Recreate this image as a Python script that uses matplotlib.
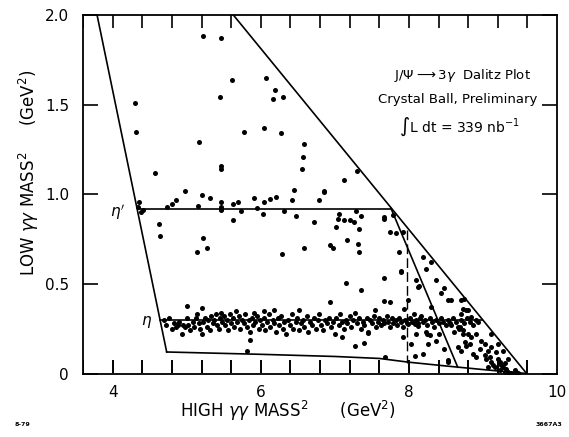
import matplotlib.pyplot as plt
import numpy as np

# kinematic boundary of the Dalitz plot (high, low) in GeV^2
left_edge_x = [3.79, 4.73]
left_edge_y = [2.0, 0.12]
bottom_edge_x = [4.73, 6.0, 7.0, 7.6, 8.0, 8.5, 9.0, 9.59]
bottom_edge_y = [0.12, 0.107, 0.095, 0.084, 0.063, 0.042, 0.022, 0.0]
upper_edge_x = [9.59, 5.63]
upper_edge_y = [0.0, 2.0]

# resonance bands and reflection
eta_prime_x = [4.34, 7.76]
eta_prime_y = [0.917, 0.917]
eta_x = [4.645, 8.99]
eta_y = [0.30, 0.30]
reflect_x = [7.76, 8.66]
reflect_y = [0.92, 0.035]
dashed_x = [7.98, 7.98]
dashed_y = [0.80, 0.06]

# axis ticks
x_major = [4, 6, 8, 10]
x_minor = [3.6, 4.4, 4.8, 5.2, 5.6, 6.4, 6.8, 7.2, 7.6, 8.4, 8.8, 9.2, 9.6]
y_major = [0, 0.5, 1.0, 1.5, 2.0]
y_labels = ["0", "0.5", "1.0", "1.5", "2.0"]

# events along the eta band
eta_band = [
    (4.70, 0.30), (4.72, 0.27), (4.76, 0.31), (4.80, 0.25), (4.83, 0.28), (4.85, 0.26),
    (4.88, 0.27), (4.90, 0.29), (4.93, 0.22), (4.95, 0.27), (4.98, 0.26), (5.00, 0.31),
    (5.02, 0.27), (5.05, 0.24), (5.08, 0.29), (5.10, 0.26), (5.12, 0.31), (5.14, 0.33),
    (5.16, 0.28), (5.18, 0.25), (5.20, 0.22), (5.22, 0.29), (5.25, 0.31), (5.27, 0.26),
    (5.29, 0.30), (5.31, 0.24), (5.33, 0.32), (5.35, 0.28), (5.37, 0.30), (5.39, 0.33),
    (5.41, 0.27), (5.43, 0.25), (5.45, 0.31), (5.47, 0.34), (5.48, 0.29), (5.50, 0.32),
    (5.52, 0.27), (5.54, 0.30), (5.56, 0.24), (5.58, 0.33), (5.60, 0.28), (5.62, 0.31),
    (5.64, 0.26), (5.66, 0.35), (5.68, 0.29), (5.70, 0.32), (5.72, 0.25), (5.75, 0.30),
    (5.77, 0.28), (5.79, 0.33), (5.82, 0.26), (5.84, 0.30), (5.86, 0.23), (5.88, 0.31),
    (5.90, 0.27), (5.92, 0.29), (5.95, 0.32), (5.97, 0.25), (5.99, 0.30), (6.02, 0.27),
    (6.04, 0.31), (6.06, 0.24), (6.09, 0.29), (6.11, 0.33), (6.13, 0.26), (6.16, 0.30),
    (6.18, 0.28), (6.20, 0.23), (6.23, 0.31), (6.25, 0.27), (6.27, 0.32), (6.30, 0.25),
    (6.32, 0.29), (6.34, 0.22), (6.37, 0.30), (6.39, 0.27), (6.42, 0.33), (6.44, 0.25),
    (6.47, 0.29), (6.49, 0.31), (6.52, 0.24), (6.54, 0.28), (6.57, 0.30), (6.59, 0.26),
    (6.62, 0.32), (6.64, 0.23), (6.67, 0.29), (6.69, 0.27), (6.72, 0.31), (6.74, 0.25),
    (6.77, 0.30), (6.79, 0.33), (6.82, 0.27), (6.84, 0.24), (6.87, 0.30), (6.89, 0.28),
    (6.92, 0.31), (6.95, 0.26), (6.97, 0.29), (7.00, 0.22), (7.02, 0.31), (7.05, 0.27),
    (7.07, 0.33), (7.10, 0.29), (7.12, 0.25), (7.15, 0.30), (7.17, 0.28), (7.20, 0.32),
    (7.22, 0.26), (7.25, 0.30), (7.27, 0.34), (7.30, 0.28), (7.33, 0.31), (7.35, 0.25),
    (7.38, 0.29), (7.40, 0.27), (7.43, 0.31), (7.45, 0.23), (7.48, 0.30), (7.50, 0.28),
    (7.53, 0.32), (7.55, 0.26), (7.58, 0.29), (7.60, 0.31), (7.62, 0.27), (7.65, 0.30),
    (7.67, 0.28), (7.70, 0.32), (7.72, 0.29), (7.74, 0.26), (7.77, 0.31), (7.79, 0.28),
    (7.82, 0.30), (7.84, 0.27), (7.87, 0.31), (7.89, 0.29), (7.92, 0.26), (7.95, 0.30),
    (7.98, 0.28), (8.01, 0.31), (8.04, 0.29), (8.07, 0.33), (8.10, 0.30), (8.12, 0.28),
    (8.15, 0.31), (8.17, 0.32), (8.19, 0.29), (8.22, 0.30), (8.25, 0.27), (8.28, 0.31),
    (8.31, 0.29), (8.34, 0.26), (8.37, 0.30), (8.40, 0.28), (8.43, 0.31), (8.46, 0.29),
    (8.50, 0.27), (8.53, 0.30), (8.56, 0.28), (8.60, 0.31), (8.63, 0.29), (8.67, 0.26),
    (8.70, 0.30), (8.74, 0.28), (8.78, 0.31), (8.82, 0.29), (8.86, 0.27), (8.90, 0.30),
    (8.94, 0.29),
]

# events along the eta' band
eta_prime_band = [
    (4.34, 0.93), (4.38, 0.90), (4.36, 0.957), (4.41, 0.911), (4.74, 0.929), (4.80, 0.948),
    (4.86, 0.967), (4.98, 1.018), (5.15, 0.935), (5.21, 0.994), (5.32, 0.981),
    (5.46, 0.957), (5.46, 0.929), (5.46, 0.911), (5.47, 0.92), (5.62, 0.944),
    (5.69, 0.954), (5.73, 0.907), (5.91, 0.981), (5.95, 0.926), (6.03, 0.892),
    (6.04, 0.954), (6.13, 0.976), (6.21, 0.985), (6.31, 0.907), (6.42, 0.967),
    (6.45, 1.026), (6.48, 0.877), (6.72, 0.845), (6.79, 0.967), (6.86, 1.013),
    (7.02, 0.817), (7.04, 0.864), (7.06, 0.888), (7.13, 0.855), (7.20, 0.855),
    (7.26, 0.845), (7.29, 0.907), (7.33, 0.808), (7.36, 0.877), (7.66, 0.873),
    (7.67, 0.864), (7.78, 0.883), (5.62, 0.858), (4.63, 0.836),
]

# remaining scattered events
scatter_events = [
    (5.22, 1.885), (5.47, 1.873), (5.61, 1.64), (6.07, 1.65), (6.19, 1.58), (6.17, 1.53),
    (6.30, 1.54), (5.45, 1.54), (4.30, 1.51), (4.32, 1.35), (5.78, 1.35), (6.05, 1.37),
    (6.28, 1.34), (5.17, 1.29), (6.59, 1.28), (6.57, 1.21), (6.56, 1.14), (5.46, 1.14),
    (5.46, 1.16), (4.57, 1.12), (6.86, 1.02), (7.13, 1.08), (7.30, 1.13),
    (4.64, 0.767), (5.22, 0.758), (5.27, 0.70), (5.14, 0.676), (7.74, 0.788),
    (7.82, 0.784), (7.16, 0.747), (7.31, 0.72), (6.94, 0.715), (6.97, 0.70), (7.32, 0.678),
    (6.58, 0.70), (6.29, 0.668), (7.86, 0.68), (7.89, 0.57), (7.67, 0.532), (7.15, 0.505),
    (7.36, 0.464), (6.94, 0.398), (7.67, 0.404), (7.75, 0.398), (7.93, 0.361), (7.54, 0.352),
    (6.52, 0.352), (5.91, 0.339), (6.04, 0.348), (6.18, 0.356), (5.00, 0.376), (5.20, 0.367),
    (7.92, 0.79), (7.90, 0.566), (7.99, 0.408),
    (8.19, 0.65), (8.30, 0.622), (8.23, 0.585), (8.37, 0.52), (8.10, 0.52), (8.12, 0.482),
    (8.14, 0.49), (8.47, 0.479), (8.44, 0.449), (8.57, 0.408), (8.71, 0.41), (8.75, 0.413),
    (8.30, 0.37), (8.80, 0.352),
    (5.86, 0.188), (7.10, 0.203), (7.27, 0.151), (7.39, 0.169), (7.45, 0.225), (7.68, 0.091),
    (5.81, 0.125),
    (7.92, 0.203), (7.99, 0.278), (8.08, 0.274), (8.12, 0.263), (8.23, 0.23), (8.25, 0.22),
    (8.28, 0.212), (8.10, 0.222), (8.26, 0.166), (8.03, 0.166), (8.08, 0.10), (8.19, 0.106),
    (8.53, 0.073), (8.37, 0.184), (8.41, 0.222), (8.68, 0.25), (8.73, 0.222), (8.66, 0.147),
]

# dense corner near the end of the Dalitz region
corner_events = [
    (8.527, 0.408), (8.707, 0.333), (8.73, 0.361), (8.774, 0.352), (8.842, 0.315),
    (8.572, 0.268), (8.684, 0.259), (8.616, 0.231), (8.73, 0.240), (8.797, 0.222),
    (8.842, 0.203), (8.909, 0.222), (8.752, 0.175), (8.819, 0.166), (8.774, 0.156),
    (8.707, 0.128), (8.865, 0.110), (8.909, 0.091), (9.022, 0.101), (9.045, 0.082),
    (9.089, 0.091), (9.112, 0.063), (9.135, 0.045), (9.203, 0.082), (9.224, 0.063),
    (9.247, 0.045), (9.27, 0.035), (9.224, 0.017), (9.315, 0.026), (9.292, 0.007),
    (9.337, 0.007), (9.382, 0.003), (9.427, 0.017), (9.45, 0.007), (9.473, 0.002),
    (9.157, 0.035), (9.067, 0.035), (8.977, 0.184), (9.022, 0.166), (9.112, 0.147),
    (9.067, 0.128), (8.955, 0.138), (8.527, 0.063), (8.481, 0.138), (9.11, 0.222),
    (9.20, 0.166), (9.27, 0.128), (9.34, 0.082), (9.18, 0.12), (9.30, 0.06),
]

plt.rcParams.update({
    "ytick.direction": "in", "ytick.left": True, "ytick.right": True,
    "ytick.major.size": 11, "ytick.major.width": 1.2,
    "xtick.major.size": 0, "xtick.minor.size": 0,
    "xtick.major.pad": 8, "ytick.major.pad": 10,
    "xtick.labelsize": 11, "ytick.labelsize": 11,
    "axes.linewidth": 1.3,
})

fig = plt.figure(figsize=(5.69, 4.37), dpi=100)
ax = fig.add_axes([83 / 569, 1 - 373.5 / 437, 474 / 569, 358.5 / 437])

line_kw = dict(color="black", lw=1.2)
ax.plot(left_edge_x, left_edge_y, **line_kw)
ax.plot(bottom_edge_x, bottom_edge_y, **line_kw)
ax.plot(upper_edge_x, upper_edge_y, **line_kw)
ax.plot(eta_prime_x, eta_prime_y, **line_kw)
ax.plot(eta_x, eta_y, **line_kw)
ax.plot(reflect_x, reflect_y, **line_kw)
ax.plot(dashed_x, dashed_y, color="black", lw=1.0, dashes=(7, 3))

for pts in (eta_band, eta_prime_band, scatter_events, corner_events):
    arr = np.array(pts)
    ax.scatter(arr[:, 0], arr[:, 1], s=13, color="black", linewidths=0, zorder=3)

ax.set_xlim(3.6, 10.0)
ax.set_ylim(0, 2.0)
ax.set_xticks(x_major)
ax.set_xticklabels([str(v) for v in x_major])
ax.set_yticks(y_major)
ax.set_yticklabels(y_labels)

# inward tick marks along the bottom and top edges
x_ticks_all = sorted(x_major[:-1] + x_minor)
ax.vlines(x_ticks_all, 0.004, 0.078, color="black", lw=1.4, zorder=6)
ax.vlines(x_ticks_all, 1.926, 2.0, color="black", lw=1.2, zorder=6)

ax.text(0.432, -0.105, r"HIGH $\gamma\gamma$ MASS$^2$      (GeV$^2$)",
        transform=ax.transAxes, ha="center", va="center", fontsize=12)
ax.text(-0.114, 0.56, r"LOW $\gamma\gamma$ MASS$^2$     (GeV$^2$)",
        transform=ax.transAxes, ha="center", va="center", rotation=90, fontsize=12)

ax.text(0.80, 0.832, r"J/$\Psi\longrightarrow3\gamma$  Dalitz Plot",
        transform=ax.transAxes, ha="center", va="center", fontsize=9.5)
ax.text(0.791, 0.763, "Crystal Ball, Preliminary",
        transform=ax.transAxes, ha="center", va="center", fontsize=9.5)
ax.text(0.795, 0.687, r"$\int$L dt = 339 nb$^{-1}$",
        transform=ax.transAxes, ha="center", va="center", fontsize=10)

ax.text(4.07, 0.90, r"$\eta'$", ha="center", va="center", fontsize=11)
ax.text(4.46, 0.285, r"$\eta$", ha="center", va="center", fontsize=11)

fig.text(15 / 569, 1 - 425 / 437, "8-79", fontsize=4.5, fontweight="bold",
         ha="left", va="center")
fig.text(562 / 569, 1 - 425 / 437, "3667A3", fontsize=4.5, fontweight="bold",
         ha="right", va="center")

fig.savefig("out.png", dpi=100)
